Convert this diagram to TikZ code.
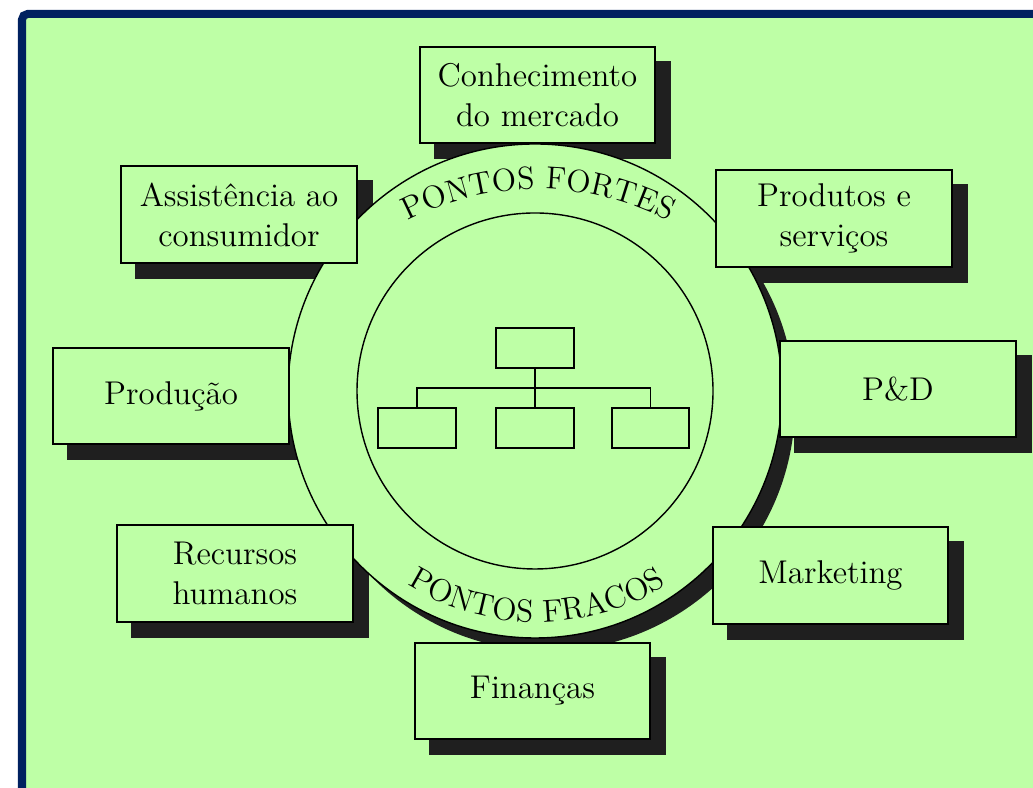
\documentclass[tikz,border=0pt]{standalone}
\usepackage{fontspec}
\usetikzlibrary{decorations.text}
\pgfdeclarelayer{background}
\pgfsetlayers{background,main}
\definecolor{bggreen}{RGB}{190,255,166}
\definecolor{framenavy}{RGB}{0,33,96}
\begin{document}
\begin{tikzpicture}%
	[x=0.0125cm,
	y=0.0125cm,
	frame/.style={color=framenavy, line width=0.1cm, rounded corners=2},
	area/.style={fill=bggreen},
	ring/.style={draw=black, line width=0.5pt, fill=bggreen},
	shade/.style={fill=black!88},
	unit/.style={draw=black, line width=0.7pt, fill=bggreen, align=center, inner sep=2pt,
		minimum width=2.94cm, minimum height=1.21cm, font=\fontsize{11.7}{14.2}\selectfont},
	orgbox/.style={draw=black, line width=0.6pt, minimum width=0.97cm, minimum height=0.5cm, inner sep=0pt},
	orgline/.style={line width=0.6pt}]
%
\useasboundingbox (0,0) rectangle (1033,788);
%%
%% The boxes round the circle
%%
\node[unit] (know)     at (537.5, 693.0) {Conhecimento\\do mercado};
\node[unit] (assist)   at (239.0, 573.5) {Assistência ao\\consumidor};
\node[unit] (prod)     at (834.0, 569.5) {Produtos e\\serviços};
\node[unit] (producao) at (171.0, 392.0) {Produção};
\node[unit] (pd)       at (898.0, 399.0) {P\&D};
\node[unit] (rh)       at (235.0, 214.5) {Recursos\\humanos};
\node[unit] (mkt)      at (830.5, 212.5) {Marketing};
\node[unit] (fin)      at (532.5,  97.0) {Finanças};
%%
%% The organisation chart in the middle
%%
\node[orgbox] (top)   at (535.0, 440) {};
\node[orgbox] (left)  at (417.0, 360) {};
\node[orgbox] (mid)   at (535.0, 360) {};
\node[orgbox] (right) at (650.5, 360) {};
\coordinate (bar) at (535, 400);
\draw[orgline] (top.south) -- (mid.north);
\draw[orgline] (left.north) |- (bar) -| (right.north);
%%
%% Background, shadows and the ring
%%
\begin{pgfonlayer}{background}
\clip (0,0) rectangle (1033,788);
\fill[area] (22,-20) rectangle (1060,774);
\draw[frame] (22,-20) -- (22,774) -- (1060,774);
\foreach \n in {know,assist,prod,producao,pd,rh,mkt,fin}
	\fill[shade] ([shift={(15,-15)}]\n.south west) rectangle ([shift={(15,-15)}]\n.north east);
\fill[shade] (548,384) circle[radius=247];
\draw[ring] (535,397) circle[radius=247];
\draw[line width=0.5pt] (535,397) circle[radius=178];
%%
\path[decorate, decoration={text along path, text align=center,
	text={|\fontsize{11.3}{13}\selectfont|PONTOS FORTES}}]
	(538,316) ++(125:283) arc[start angle=125, end angle=55, radius=283];
\path[decorate, decoration={text along path, text align=center,
	text={|\fontsize{11.3}{13}\selectfont|PONTOS FRACOS}}]
	(537,411) ++(230:245) arc[start angle=230, end angle=310, radius=245];
\end{pgfonlayer}
%%
\end{tikzpicture}
\end{document}
